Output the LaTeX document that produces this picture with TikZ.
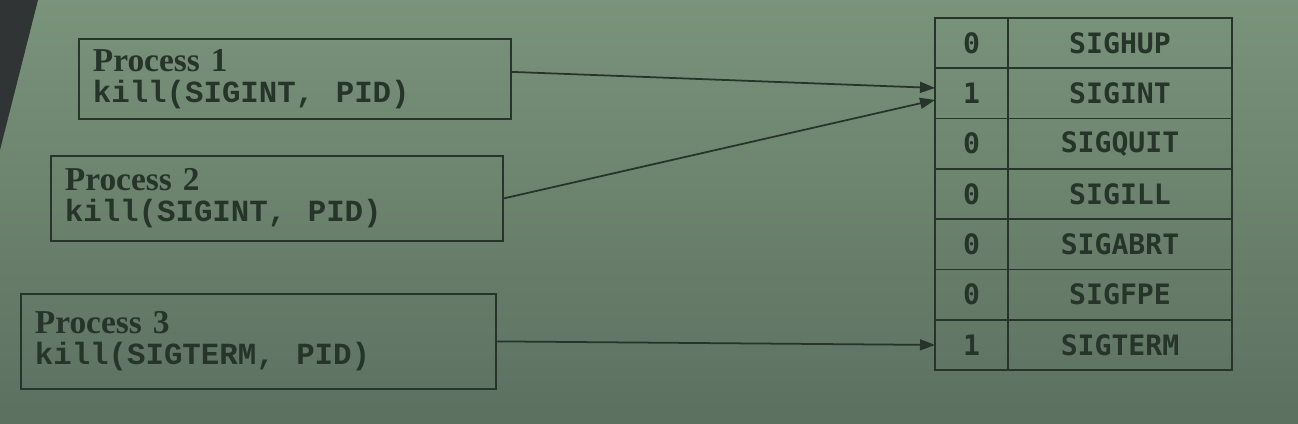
\documentclass[tikz,border=0pt]{standalone}
\usepackage{fontspec}
\setmainfont{Liberation Serif}[BoldFont={Liberation Serif Bold}]
\newfontfamily\killfont{Liberation Mono}[BoldFont={Liberation Mono Bold}]
\newfontfamily\tablefont{DejaVu Sans Mono}
\usetikzlibrary{arrows.meta,positioning}
\definecolor{screen}{RGB}{122,147,123}
\definecolor{screendark}{RGB}{92,112,95}
\definecolor{ink}{RGB}{38,52,42}
\definecolor{bezel}{RGB}{48,52,52}
\tikzset{
  procbox/.style={draw=ink, line width=1pt, anchor=north west, align=left, inner xsep=2.8mm, text=ink, font=\fontsize{19}{17.5}\selectfont},
  valcell/.style={draw=ink, line width=1pt, outer sep=0pt, minimum width=14.6mm, minimum height=10.06mm, inner sep=0pt, text=ink, font=\tablefont\bfseries\fontsize{16}{18}\selectfont},
  sigcell/.style={valcell, minimum width=44.8mm},
  sigarrow/.style={draw=ink, line width=1pt, -{Triangle[length=3mm,width=2.2mm]}}
}
\newcommand{\proctext}[3]{{\bfseries #1}\\{\killfont\bfseries\fontsize{17.5}{17.5}\selectfont kill(#2,\hspace{0.7em}#3)}}
\begin{document}
\begin{tikzpicture}[x=0.2mm, y=-0.2mm]
% background
\shade[top color=screen, bottom color=screendark] (0,0) rectangle (1298,423);
\fill[bezel] (0,0) -- (38,0) -- (0,150) -- cycle;
\useasboundingbox (0,0) rectangle (1298,423);

% processes
\node[procbox, text width=80.8mm, minimum height=16mm] (p1) at (78,38) {\proctext{Process 1}{SIGINT}{PID}};
\node[procbox, text width=84.8mm, minimum height=17mm] (p2) at (50,155) {\proctext{Process 2}{SIGINT}{PID}};
\node[procbox, text width=89.4mm, minimum height=19mm] (p3) at (20,293) {\proctext{Process 3}{SIGTERM}{PID}};

% pending signal table
\foreach \v/\s [count=\i] in {0/SIGHUP, 1/SIGINT, 0/SIGQUIT, 0/SIGILL, 0/SIGABRT, 0/SIGFPE, 1/SIGTERM} {
  \node[valcell] (val\i) at (971.5, {18+(\i-0.5)*50.3}) {\v};
  \node[sigcell, right=0pt of val\i] (sig\i) {\s};
}

% signals sent
\draw[sigarrow] ([yshift=1.4mm]p1.east) -- ([yshift=1.1mm]val2.west);
\draw[sigarrow] (p2.east) -- ([yshift=-1.3mm]val2.west);
\draw[sigarrow] (p3.east) -- (val7.west);
\end{tikzpicture}
\end{document}
